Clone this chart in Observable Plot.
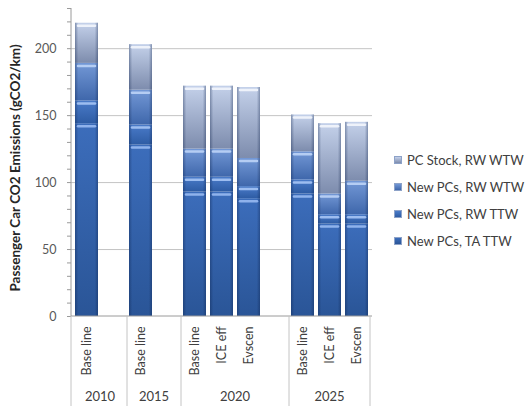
<!DOCTYPE html>
<html><head><meta charset="utf-8">
<script src="https://cdn.jsdelivr.net/npm/d3@7"></script>
<script src="https://cdn.jsdelivr.net/npm/@observablehq/plot@0.6"></script>
<style>
body{margin:0;background:#fff;font-family:Lato,"Open Sans",sans-serif;}
#chart{position:relative;width:528px;height:406px;overflow:hidden;background:#fff;}
.legend{position:absolute;left:394px;top:0;font-size:13px;color:#404040;}
.legend .item{position:absolute;left:0;white-space:nowrap;height:16px;line-height:16px;display:flex;align-items:center;}
.legend .sw{width:6px;height:6px;margin-right:5px;border:1px solid #8da2c8;}
</style></head><body><div id="chart"></div>
<script>
// x slots (gaps are empty categories)
const slots = ["2010 Base line","2010 gap","2015 Base line","2015 gap","2020 Base line","2020 ICE eff","2020 Evscen","2020 gap","2025 Base line","2025 ICE eff","2025 Evscen"];
const slotLabels = ["Base line","","Base line","","Base line","ICE eff","Evscen","","Base line","ICE eff","Evscen"];
const slotYears = ["2010","2010","2015","2015","2020","2020","2020","2020","2025","2025","2025"];
const years = ["2010","2015","2020","2025"];
// bars
const barSlots = ["2010 Base line","2015 Base line","2020 Base line","2020 ICE eff","2020 Evscen","2025 Base line","2025 ICE eff","2025 Evscen"];
const seriesNames = ["New PCs, TA TTW","New PCs, RW TTW","New PCs, RW WTW","PC Stock, RW WTW"];
const taTTW      = [144, 128, 93,  93,  88,  91.5, 69,  69];
const rwTTW      = [161, 143, 104, 104, 97,  102,  76,  76];
const newRwWTW   = [189, 169, 125, 125, 118, 123,  91.5, 101];
const stockRwWTW = [219, 203, 172, 172, 171, 150.5, 144, 145];
// axis ticks
const yMinorTicks = [0,10,20,30,40,50,60,70,80,90,100,110,120,130,140,150,160,170,180,190,200,210,220,230];
const yTickLabels = [0,50,100,150,200];
const yTitle = "Passenger Car CO2 Emissions (gCO2/km)";

const levels = [taTTW, rwTTW, newRwWTW, stockRwWTW];
const segments = [];
barSlots.forEach((slot, i) => {
  let prev = 0;
  levels.forEach((arr, s) => { segments.push({slot, series: s, y1: prev, y2: arr[i]}); prev = arr[i]; });
});

const grads = [["#3c6dbb","#2a5597"],["#4a7bc9","#2e5ca4"],["#7398d6","#3f67ab"],["#c4d1ea","#7d8cad"]];
const hiColors = ["#8fb2ec","#9dbdf0","#b5cdf3","#eef2fa"];

const plot = Plot.plot({
  width: 528, height: 406,
  marginLeft: 71, marginRight: 156, marginTop: 8, marginBottom: 90,
  style: {fontFamily: "Lato, 'Open Sans', sans-serif", fontSize: "12px", color: "#595959", background: "transparent"},
  x: {domain: slots, paddingInner: 0.16, paddingOuter: 0.08, axis: null, label: null},
  y: {domain: [0, 230], axis: null, label: null},
  marks: [
    Plot.ruleY(yTickLabels.filter(d => d > 0), {stroke: "#c4c4c4", strokeWidth: 1}),
    ...seriesNames.map((name, s) => Plot.rectY(segments.filter(d => d.series === s), {x: "slot", y1: "y1", y2: "y2", fill: `url(#g${s})`})),
    Plot.rectY(segments, {x: "slot", y1: "y1", y2: "y2", fill: "url(#edge)"}),
    ...seriesNames.map((name, s) => Plot.tickY(segments.filter(d => d.series === s), {x: "slot", y: "y2", stroke: hiColors[s], strokeWidth: 2.5, strokeLinecap: "round", dy: 2.5, insetLeft: 3, insetRight: 3})),
    Plot.axisY({ticks: yMinorTicks, tickSize: 4, tickPadding: 11, stroke: "#9a9a9a", fill: "#595959", fontSize: 12.5, label: null, tickFormat: d => yTickLabels.includes(d) ? d : ""}),
    Plot.axisX({tickRotate: -90, tickSize: 0, tickPadding: 10, fill: "#404040", fontSize: 12.5, label: null, tickFormat: s => slotLabels[slots.indexOf(s)]})
  ]
});

const svg = d3.select(plot);
const defs = svg.insert("defs", ":first-child");
grads.forEach((g, s) => {
  const lg = defs.append("linearGradient").attr("id", `g${s}`).attr("x1", 0).attr("y1", 0).attr("x2", 0).attr("y2", 1);
  lg.append("stop").attr("offset", "0%").attr("stop-color", g[0]);
  lg.append("stop").attr("offset", "100%").attr("stop-color", g[1]);
});
const eg = defs.append("linearGradient").attr("id", "edge").attr("x1", 0).attr("y1", 0).attr("x2", 1).attr("y2", 0);
[[0, 0.35], [0.14, 0.0], [0.86, 0.0], [1, 0.35]].forEach(([o, a]) =>
  eg.append("stop").attr("offset", o).attr("stop-color", "#0a1e46").attr("stop-opacity", a));

const xs = plot.scale("x"), ys = plot.scale("y");
const step = xs.step, bw = xs.bandwidth, pad = (step - bw) / 2;
const x0 = xs.range[0], x1 = xs.range[1];
const yb = ys.apply(0), yt = ys.apply(230);
const g = svg.append("g");
g.append("line").attr("x1", x0).attr("x2", x0).attr("y1", yt).attr("y2", yb).attr("stroke", "#9a9a9a");
g.append("line").attr("x1", x0).attr("x2", x1).attr("y1", yb).attr("y2", yb).attr("stroke", "#9a9a9a");
const bounds = [x0];
years.forEach(yr => {
  const ss = slots.filter((s, i) => slotYears[i] === yr);
  const left = xs.apply(ss[0]) - pad, right = xs.apply(ss[ss.length - 1]) + bw + pad;
  bounds.push(right);
  g.append("text").attr("x", (left + right) / 2).attr("y", 401).attr("text-anchor", "middle")
    .attr("font-size", 13).attr("fill", "#404040").text(yr);
});
bounds.forEach(b => g.append("line").attr("x1", b).attr("x2", b).attr("y1", yb).attr("y2", 406).attr("stroke", "#c4c4c4"));
g.append("text").attr("transform", `translate(17,${(yb + yt) / 2 + 6}) rotate(-90)`).attr("text-anchor", "middle")
  .attr("dominant-baseline", "middle").attr("font-weight", "bold").attr("font-size", 13.5).attr("fill", "#262626").text(yTitle);

const chart = document.getElementById("chart");
chart.appendChild(plot);
const legend = document.createElement("div");
legend.className = "legend";
const order = [3, 2, 1, 0];
order.forEach((s, k) => {
  const it = document.createElement("div");
  it.className = "item";
  it.style.top = (152 + k * 27) + "px";
  const sw = document.createElement("span");
  sw.className = "sw";
  sw.style.background = `linear-gradient(${grads[s][0]}, ${grads[s][1]})`;
  it.appendChild(sw);
  it.appendChild(document.createTextNode(seriesNames[s]));
  legend.appendChild(it);
});
chart.appendChild(legend);
</script>
</body></html>
